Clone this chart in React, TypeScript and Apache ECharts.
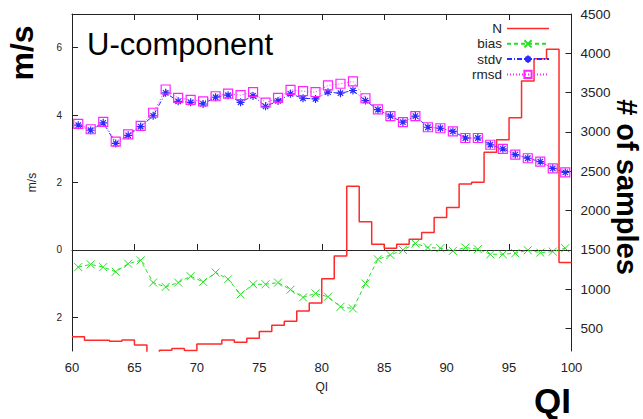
import React, { useEffect, useRef } from 'react';
import * as echarts from 'echarts';

// QI bin left edges (histogram of number of samples)
const binStart = [60, 61, 62, 63, 64, 65, 66, 67, 68, 69, 70, 71, 72, 73, 74, 75, 76, 77, 78, 79, 80, 81, 82, 83, 84, 85, 86, 87, 88, 89, 90, 91, 92, 93, 94, 95, 96, 97, 98, 99];
const binEnd = 100;
const nSamples = [394, 352, 352, 339, 355, 290, 180, 224, 246, 220, 302, 302, 355, 326, 377, 463, 543, 594, 722, 824, 1134, 1423, 2308, 1857, 1573, 1522, 1573, 1637, 1721, 1912, 2040, 2338, 2359, 2742, 2900, 3180, 3648, 3932, 4052, 1339];

// QI bin centres for the statistics
const qi = [60.5, 61.5, 62.5, 63.5, 64.5, 65.5, 66.5, 67.5, 68.5, 69.5, 70.5, 71.5, 72.5, 73.5, 74.5, 75.5, 76.5, 77.5, 78.5, 79.5, 80.5, 81.5, 82.5, 83.5, 84.5, 85.5, 86.5, 87.5, 88.5, 89.5, 90.5, 91.5, 92.5, 93.5, 94.5, 95.5, 96.5, 97.5, 98.5, 99.5];
const bias = [-0.51, -0.43, -0.51, -0.65, -0.41, -0.31, -0.97, -1.1, -0.97, -0.78, -0.95, -0.67, -0.87, -1.32, -1.02, -1.02, -0.97, -1.18, -1.41, -1.29, -1.39, -1.69, -1.74, -1.0, -0.28, -0.15, 0.0, 0.19, 0.07, 0.05, -0.03, 0.07, 0.02, -0.13, -0.13, -0.1, -0.01, -0.08, -0.05, 0.05];
const stdv = [3.7, 3.55, 3.77, 3.16, 3.4, 3.66, 3.98, 4.66, 4.41, 4.38, 4.33, 4.53, 4.59, 4.38, 4.57, 4.26, 4.42, 4.63, 4.5, 4.48, 4.68, 4.65, 4.73, 4.43, 4.16, 3.97, 3.79, 3.97, 3.64, 3.61, 3.52, 3.32, 3.32, 3.12, 3.0, 2.83, 2.72, 2.62, 2.42, 2.3];
const rmsd = [3.74, 3.58, 3.8, 3.21, 3.43, 3.68, 4.07, 4.76, 4.51, 4.45, 4.41, 4.56, 4.64, 4.59, 4.68, 4.37, 4.51, 4.75, 4.71, 4.68, 4.88, 4.93, 5.0, 4.5, 4.17, 3.97, 3.79, 3.97, 3.64, 3.61, 3.52, 3.32, 3.32, 3.12, 3.0, 2.83, 2.72, 2.62, 2.42, 2.3];

const leftTicks = [-2, 0, 2, 4, 6];
const rightTicks = [500, 1000, 1500, 2000, 2500, 3000, 3500, 4000, 4500];
const leftMin = -3;
const leftMax = 7;
const rightMax = 4500;
// right axis aligned so that 1500 samples sits on 0 m/s
const rightMin = 1500 - 3 * (3000 / 7);

const FONT = '"Liberation Sans", Arial, Helvetica, sans-serif';
const X_PATH = 'path://M0,0L10,10M10,0L0,10';
const STAR_PATH = 'path://M5,0L5,10M0,5L10,5M1.6,1.6L8.4,8.4M8.4,1.6L1.6,8.4';
const LINE_ICON = 'path://M0,0H42V1.5H0Z';

export default function App() {
  const ref = useRef<HTMLDivElement>(null);
  useEffect(() => {
    document.body.style.margin = '0';
    const chart = echarts.init(ref.current!, null, { renderer: 'svg' });
    const nData: number[][] = binStart.map((x, i) => [x, nSamples[i]]);
    nData.push([binEnd, nSamples[nSamples.length - 1]]);
    const axisCol = '#222';
    chart.setOption({
      animation: false,
      backgroundColor: '#fff',
      textStyle: { fontFamily: FONT },
      grid: { left: 72, right: 71.5, top: 14, bottom: 68, containLabel: false },
      legend: {
        orient: 'vertical',
        align: 'right',
        right: 88,
        top: 16.5,
        itemWidth: 42,
        itemHeight: 9,
        itemGap: 1.3,
        textStyle: { fontFamily: FONT, fontSize: 13.5, color: '#222', lineHeight: 13 },
        data: [
          { name: 'N', icon: LINE_ICON, itemStyle: { color: '#ff2a2a' } },
          'bias',
          'stdv',
          'rmsd',
        ],
      },
      xAxis: [
        {
          type: 'value',
          min: 60,
          max: 100,
          interval: 5,
          position: 'bottom',
          name: 'QI',
          nameLocation: 'middle',
          nameGap: 30,
          nameTextStyle: { fontFamily: FONT, fontSize: 12, color: '#222' },
          axisLine: { show: true, lineStyle: { color: axisCol, width: 1 } },
          axisTick: { show: true, inside: true, length: 6, lineStyle: { color: axisCol } },
          axisLabel: { fontFamily: FONT, fontSize: 13, color: '#222', margin: 10 },
          splitLine: { show: false },
        },
        {
          type: 'value',
          min: 60,
          max: 100,
          interval: 5,
          position: 'top',
          axisLine: { show: true, lineStyle: { color: axisCol, width: 1 } },
          axisTick: { show: true, inside: true, length: 6, lineStyle: { color: axisCol } },
          axisLabel: { show: false },
          splitLine: { show: false },
        },
      ],
      yAxis: [
        {
          type: 'value',
          min: leftMin,
          max: leftMax,
          position: 'left',
          name: 'm/s',
          nameLocation: 'middle',
          nameGap: 34,
          nameRotate: 90,
          nameTextStyle: { fontFamily: FONT, fontSize: 12, color: '#222' },
          axisLine: { show: true, lineStyle: { color: axisCol, width: 1 } },
          axisTick: { show: true, inside: true, length: 6, customValues: leftTicks, lineStyle: { color: axisCol } },
          axisLabel: {
            fontFamily: FONT,
            fontSize: 10,
            color: '#222',
            margin: 10,
            customValues: leftTicks,
            formatter: (v: number) => String(Math.abs(v)),
          },
          splitLine: { show: false },
        },
        {
          type: 'value',
          min: rightMin,
          max: rightMax,
          position: 'right',
          axisLine: { show: true, lineStyle: { color: axisCol, width: 1 } },
          axisTick: { show: true, inside: true, length: 6, customValues: rightTicks, lineStyle: { color: axisCol } },
          axisLabel: {
            fontFamily: FONT,
            fontSize: 13.5,
            color: '#222',
            margin: 9,
            customValues: rightTicks,
            formatter: (v: number) => String(Math.round(v)),
          },
          splitLine: { show: false },
        },
      ],
      series: [
        {
          name: 'N',
          type: 'line',
          xAxisIndex: 0,
          yAxisIndex: 1,
          step: 'end',
          showSymbol: false,
          symbol: 'none',
          data: nData,
          lineStyle: { color: '#ff2a2a', width: 1.5 },
          itemStyle: { color: '#ff2a2a' },
          clip: true,
        },
        {
          name: 'bias',
          type: 'line',
          xAxisIndex: 0,
          yAxisIndex: 0,
          data: qi.map((x, i) => [x, bias[i]]),
          symbol: X_PATH,
          symbolSize: 8,
          lineStyle: { color: '#22e022', width: 1, type: [4, 3] },
          itemStyle: { color: '#22e022', borderColor: '#22e022', borderWidth: 1 },
          markLine: {
            silent: true,
            symbol: 'none',
            label: { show: false },
            lineStyle: { color: '#333', width: 1, type: [1, 1.5] },
            data: [{ yAxis: 0 }],
          },
        },
        {
          name: 'stdv',
          type: 'line',
          xAxisIndex: 0,
          yAxisIndex: 0,
          data: qi.map((x, i) => [x, stdv[i]]),
          symbol: STAR_PATH,
          symbolSize: 8,
          lineStyle: { color: '#2a2aff', width: 1, type: [5, 2, 1, 2] },
          itemStyle: { color: '#2a2aff', borderColor: '#2a2aff', borderWidth: 1.2 },
        },
        {
          name: 'rmsd',
          type: 'line',
          xAxisIndex: 0,
          yAxisIndex: 0,
          data: qi.map((x, i) => [x, rmsd[i]]),
          symbol: 'rect',
          symbolSize: 9,
          lineStyle: { color: '#ff22ff', width: 1, type: [1, 2] },
          itemStyle: { color: 'rgba(0,0,0,0)', borderColor: '#ff22ff', borderWidth: 1.2 },
        },
      ],
      graphic: [
        {
          type: 'text',
          x: 87,
          y: 44,
          style: { text: 'U-component', font: `31px ${FONT}`, fill: '#000', align: 'left', verticalAlign: 'middle' },
        },
        {
          type: 'text',
          x: 22,
          y: 53,
          rotation: Math.PI / 2,
          style: { text: 'm/s', font: `bold 32px ${FONT}`, fill: '#000', align: 'center', verticalAlign: 'middle' },
        },
        {
          type: 'text',
          x: 627,
          y: 187,
          rotation: -Math.PI / 2,
          style: { text: '# of samples', font: `bold 29px ${FONT}`, fill: '#000', align: 'center', verticalAlign: 'middle' },
        },
        {
          type: 'text',
          x: 571,
          y: 400,
          style: { text: 'QI', font: `bold 35px ${FONT}`, fill: '#000', align: 'right', verticalAlign: 'middle' },
        },
      ],
    });
    return () => chart.dispose();
  }, []);
  return <div ref={ref} style={{ width: 643, height: 419 }} />;
}
